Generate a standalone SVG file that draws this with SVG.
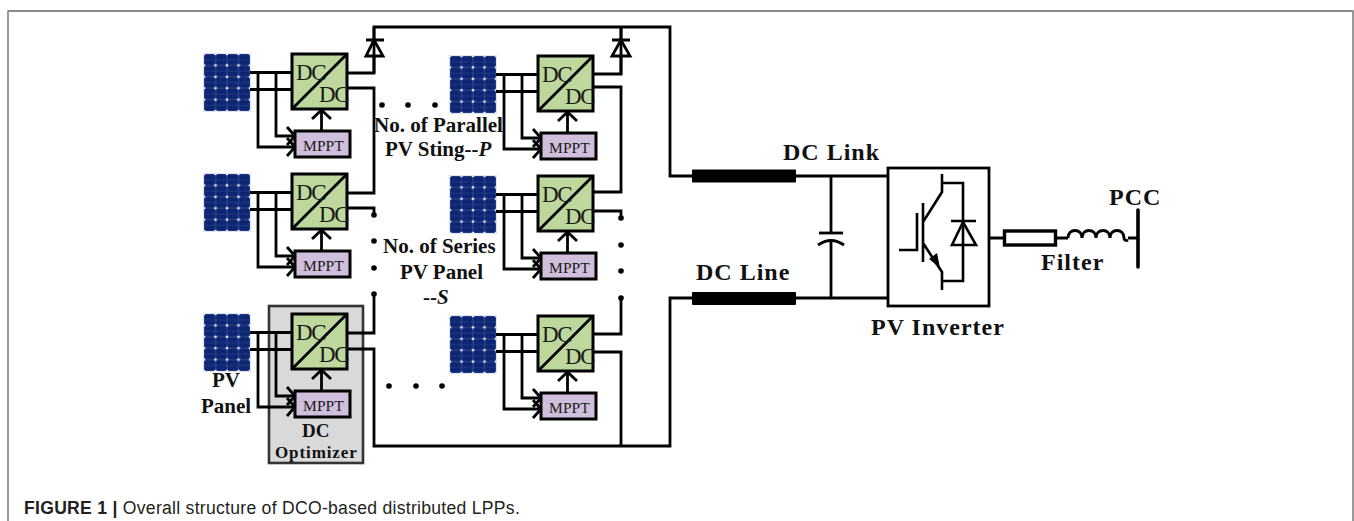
<svg xmlns="http://www.w3.org/2000/svg" width="1354" height="521" viewBox="0 0 1354 521">
<style>
.w{fill:none;stroke:#000;stroke-width:2.8;stroke-linejoin:miter}
.t{fill:none;stroke:#000;stroke-width:2.6}
.b{font-family:"Liberation Serif","Times New Roman",serif;font-weight:bold;fill:#111}
.s{font-family:"Liberation Serif","Times New Roman",serif;fill:#1a1a1a}
.dc{font-size:23px;letter-spacing:-1.4px}
.mp{font-size:15.500px;letter-spacing:.1px}
.l20{font-size:21px}
.l23{font-size:24px;letter-spacing:1px}
.dot{fill:#000}
</style>
<defs>
<pattern id="cell" width="11.5" height="11.4" patternUnits="userSpaceOnUse">
<rect width="11.5" height="11.4" fill="#2f4c98"/>
<rect x=".5" y=".5" width="10.500" height="10.400" rx="2" fill="#0e2672"/>
<rect x="0" y="5.500" width="11.5" height=".5" fill="#2f4c98"/>
<circle cx="0" cy="0" r="1.3" fill="#f2f4fa"/><circle cx="11.5" cy="0" r="1.3" fill="#f2f4fa"/><circle cx="0" cy="11.4" r="1.3" fill="#f2f4fa"/><circle cx="11.5" cy="11.4" r="1.3" fill="#f2f4fa"/>
</pattern>
<g id="panel">
<rect x="-1" y="-1" width="48" height="59" fill="#dfe4ec"/>
<rect width="46" height="57" fill="url(#cell)"/>
</g>
<g id="opt">
<use href="#panel" x="-88" y="0"/>
<path class="w" d="M-42 18.500H0M-42 35.500H0M-34 18.500V93H3M-16 18.500V82H3"/>
<path class="w" d="M-5 73L3 82L-5 91M-5 84L3 93L-5 102"/>
<rect x="0" y="0" width="55" height="55" fill="#bdd79c" stroke="#000" stroke-width="3"/>
<path class="w" d="M0 55L55 0"/>
<path class="w" d="M29.500 77V56M20 65L29.500 56L39 65"/>
<rect x="3" y="77" width="55" height="26" fill="#d0bfdc" stroke="#000" stroke-width="3"/>
</g>
</defs>
<rect width="1354" height="521" fill="#fff"/>
<path d="M8 521V11H1353V521" fill="none" stroke="#808080" stroke-width="1.6"/>
<path d="M8 11H1353" fill="none" stroke="#8a8a8a" stroke-width="2.2"/>

<g id="dc-optimizer-box">
<rect x="269" y="306" width="94" height="157" fill="#d9d9d9" stroke="#333" stroke-width="2.6"/>
</g>

<g id="connectors">
<path class="w" d="M347 73H374V27H670V176H692"/>
<path class="w" d="M347 88H374V193H347"/>
<path class="w" d="M347 208H374V215"/>
<path class="w" d="M374 294V333H347"/>
<path class="w" d="M347 349H374V446H670V298H692"/>
<path class="w" d="M593 74H621V27"/>
<path class="w" d="M593 87H621V192H593"/>
<path class="w" d="M593 211H621V218"/>
<path class="w" d="M621 298V334H593"/>
<path class="w" d="M593 352H621V446"/>
<path class="w" d="M796 176H888M796 298H888M831 176V233M831 242V298"/>
<path class="w" d="M989 238H1004M1056 238H1068M1128 238H1138"/>
</g>

<g id="diode-left"><path d="M374 40L366 56H383Z" fill="#fff" stroke="#000" stroke-width="2.8"/><path class="w" d="M366 40H384M374 27V73"/></g>
<g id="diode-right"><path d="M621 40L612 56H630Z" fill="#fff" stroke="#000" stroke-width="2.8"/><path class="w" d="M612 40H630M621 27V74"/></g>

<g id="dots">
<g class="dot">
<circle cx="382" cy="105" r="2.8"/><circle cx="408" cy="105" r="2.8"/><circle cx="435" cy="105" r="2.800"/>
<circle cx="374" cy="215" r="2.8"/><circle cx="374" cy="241" r="2.8"/><circle cx="374" cy="268" r="2.8"/><circle cx="374" cy="294" r="2.800"/>
<circle cx="621" cy="218" r="2.8"/><circle cx="621" cy="245" r="2.8"/><circle cx="621" cy="271" r="2.8"/><circle cx="621" cy="298" r="2.800"/>
<circle cx="389" cy="386" r="2.8"/><circle cx="416" cy="386" r="2.8"/><circle cx="442" cy="386" r="2.800"/>
</g>
</g>

<g id="module-a" transform="translate(292 54)"><use href="#opt"/><text class="s dc" x="4" y="26">DC</text><text class="s dc" x="27" y="48">DC</text><text class="s mp" x="11" y="97">MPPT</text></g>
<g id="module-b" transform="translate(292 174)"><use href="#opt"/><text class="s dc" x="4" y="26">DC</text><text class="s dc" x="27" y="48">DC</text><text class="s mp" x="11" y="97">MPPT</text></g>
<g id="module-c" transform="translate(292 314)"><use href="#opt"/><text class="s dc" x="4" y="26">DC</text><text class="s dc" x="27" y="48">DC</text><text class="s mp" x="11" y="97">MPPT</text></g>
<g id="module-d" transform="translate(538 56)"><use href="#opt"/><text class="s dc" x="4" y="26">DC</text><text class="s dc" x="27" y="48">DC</text><text class="s mp" x="11" y="97">MPPT</text></g>
<g id="module-e" transform="translate(538 176)"><use href="#opt"/><text class="s dc" x="4" y="26">DC</text><text class="s dc" x="27" y="48">DC</text><text class="s mp" x="11" y="97">MPPT</text></g>
<g id="module-f" transform="translate(538 316)"><use href="#opt"/><text class="s dc" x="4" y="26">DC</text><text class="s dc" x="27" y="48">DC</text><text class="s mp" x="11" y="97">MPPT</text></g>

<g id="dc-link-cable"><rect x="692" y="169.500" width="104" height="13" rx="1" fill="#000"/></g>
<g id="dc-line-cable"><rect x="692" y="292" width="104" height="13" rx="1" fill="#000"/></g>

<g id="capacitor">
<path class="w" d="M819 233H843"/>
<path class="w" d="M818 245Q831 236 844 245"/>
</g>

<g id="pv-inverter">
<rect x="888" y="168" width="101" height="138" fill="#fff" stroke="#000" stroke-width="2.8"/>
<path class="t" d="M899 250H917V213M923 203V262M923 222L942 192V174M942 183H963V281H942M923 243L942 272V290M963 183V222M963 245V281"/>
<path d="M940 268L929 259L937 253Z" fill="#000"/>
<path class="t" d="M951 221H976M963 222L952 245H976Z"/>
</g>

<g id="filter">
<rect x="1004.500" y="231" width="51" height="14" fill="#fff" stroke="#000" stroke-width="3.4"/>
<path d="M1068 238C1068 228 1082 228 1082 238C1082 228 1096 228 1096 238C1096 228 1110 228 1110 238C1110 228 1124 228 1124 238C1124 240 1126 241 1128 240" fill="none" stroke="#000" stroke-width="3"/>
</g>
<g id="pcc"><path d="M1138 210V267" fill="none" stroke="#000" stroke-width="3.6" stroke-linecap="round"/></g>

<g id="labels">
<text class="b l20" x="374" y="132">No. of Parallel</text>
<text class="b l20" x="385" y="156">PV Sting--<tspan font-style="italic">P</tspan></text>
<text class="b l20" x="383" y="253">No. of Series</text>
<text class="b l20" x="400" y="279">PV Panel</text>
<text class="b l20" x="423" y="304">--<tspan font-style="italic">S</tspan></text>
<text class="b l20" x="212" y="387">PV</text>
<text class="b l20" x="201" y="413">Panel</text>
<text class="b" font-size="19" x="302" y="437">DC</text>
<text class="b" font-size="17" letter-spacing=".9" x="275" y="458">Optimizer</text>
<text class="b l23" x="783" y="160">DC Link</text>
<text class="b l23" x="696" y="280">DC Line</text>
<text class="b l23" x="871" y="335">PV Inverter</text>
<text class="b l23" x="1041" y="270">Filter</text>
<text class="b l23" x="1109" y="205">PCC</text>
</g>
<g id="caption">
<text x="24" y="514" font-family="'Liberation Sans',Arial,sans-serif" font-size="17.600px" letter-spacing=".27" fill="#231f20"><tspan font-weight="bold">FIGURE 1 |</tspan> Overall structure of DCO-based distributed LPPs.</text>
</g>
</svg>
